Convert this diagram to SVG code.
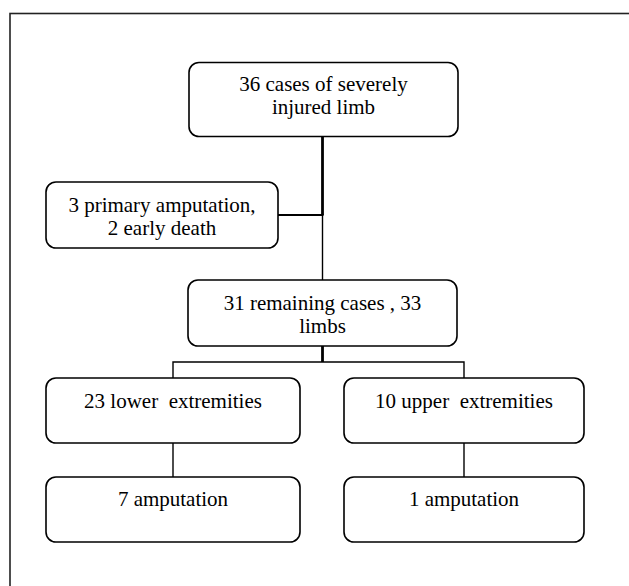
<svg xmlns="http://www.w3.org/2000/svg" width="629" height="586" viewBox="0 0 629 586">
<style>
  .box { fill: #fff; stroke: #000; stroke-width: 1.6; }
  text { font-family: 'Liberation Serif', 'DejaVu Serif', serif; font-size: 21px; fill: #000; text-anchor: middle; }
  .thin { stroke: #000; stroke-width: 1.4; fill: none; }
  .thick { stroke: #000; stroke-width: 2.8; fill: none; }
</style>
<rect width="629" height="586" fill="#fff"/>
<rect id="frame" x="10" y="13.5" width="640" height="600" fill="none" stroke="#222" stroke-width="1.6"/>
<g id="connectors">
  <line class="thick" x1="322.5" y1="137" x2="322.5" y2="215"/>
  <line class="thin" x1="322.5" y1="215" x2="322.5" y2="280"/>
  <line class="thin" x1="278" y1="215" x2="323.5" y2="215" style="stroke-width:1.8"/>
  <line class="thick" x1="322.5" y1="346" x2="322.5" y2="362"/>
  <polyline class="thin" points="173,378 173,362 464,362 464,378"/>
  <line class="thin" x1="173" y1="443" x2="173" y2="477"/>
  <line class="thin" x1="464" y1="443" x2="464" y2="477"/>
</g>
<g id="n1">
  <rect class="box" x="189" y="62.5" width="269" height="74" rx="10"/>
  <text x="323.5" y="90.5" font-family="Liberation Serif, serif">36 cases of severely</text>
  <text x="323.5" y="114" font-family="Liberation Serif, serif">injured limb</text>
</g>
<g id="n2">
  <rect class="box" x="46" y="182" width="232" height="66" rx="10"/>
  <text x="162" y="211.5">3 primary amputation,</text>
  <text x="162" y="235">2 early death</text>
</g>
<g id="n3">
  <rect class="box" x="188" y="280" width="269" height="66" rx="10"/>
  <text x="322.5" y="310">31 remaining cases , 33</text>
  <text x="322.5" y="333">limbs</text>
</g>
<g id="n4">
  <rect class="box" x="46" y="378" width="254" height="65" rx="10"/>
  <text x="173" y="408" xml:space="preserve">23 lower  extremities</text>
</g>
<g id="n5">
  <rect class="box" x="344" y="378" width="240" height="65" rx="10"/>
  <text x="464" y="408" xml:space="preserve">10 upper  extremities</text>
</g>
<g id="n6">
  <rect class="box" x="46" y="477" width="254" height="65" rx="10"/>
  <text x="173" y="506">7 amputation</text>
</g>
<g id="n7">
  <rect class="box" x="344" y="477" width="240" height="65" rx="10"/>
  <text x="464" y="506">1 amputation</text>
</g>
</svg>
